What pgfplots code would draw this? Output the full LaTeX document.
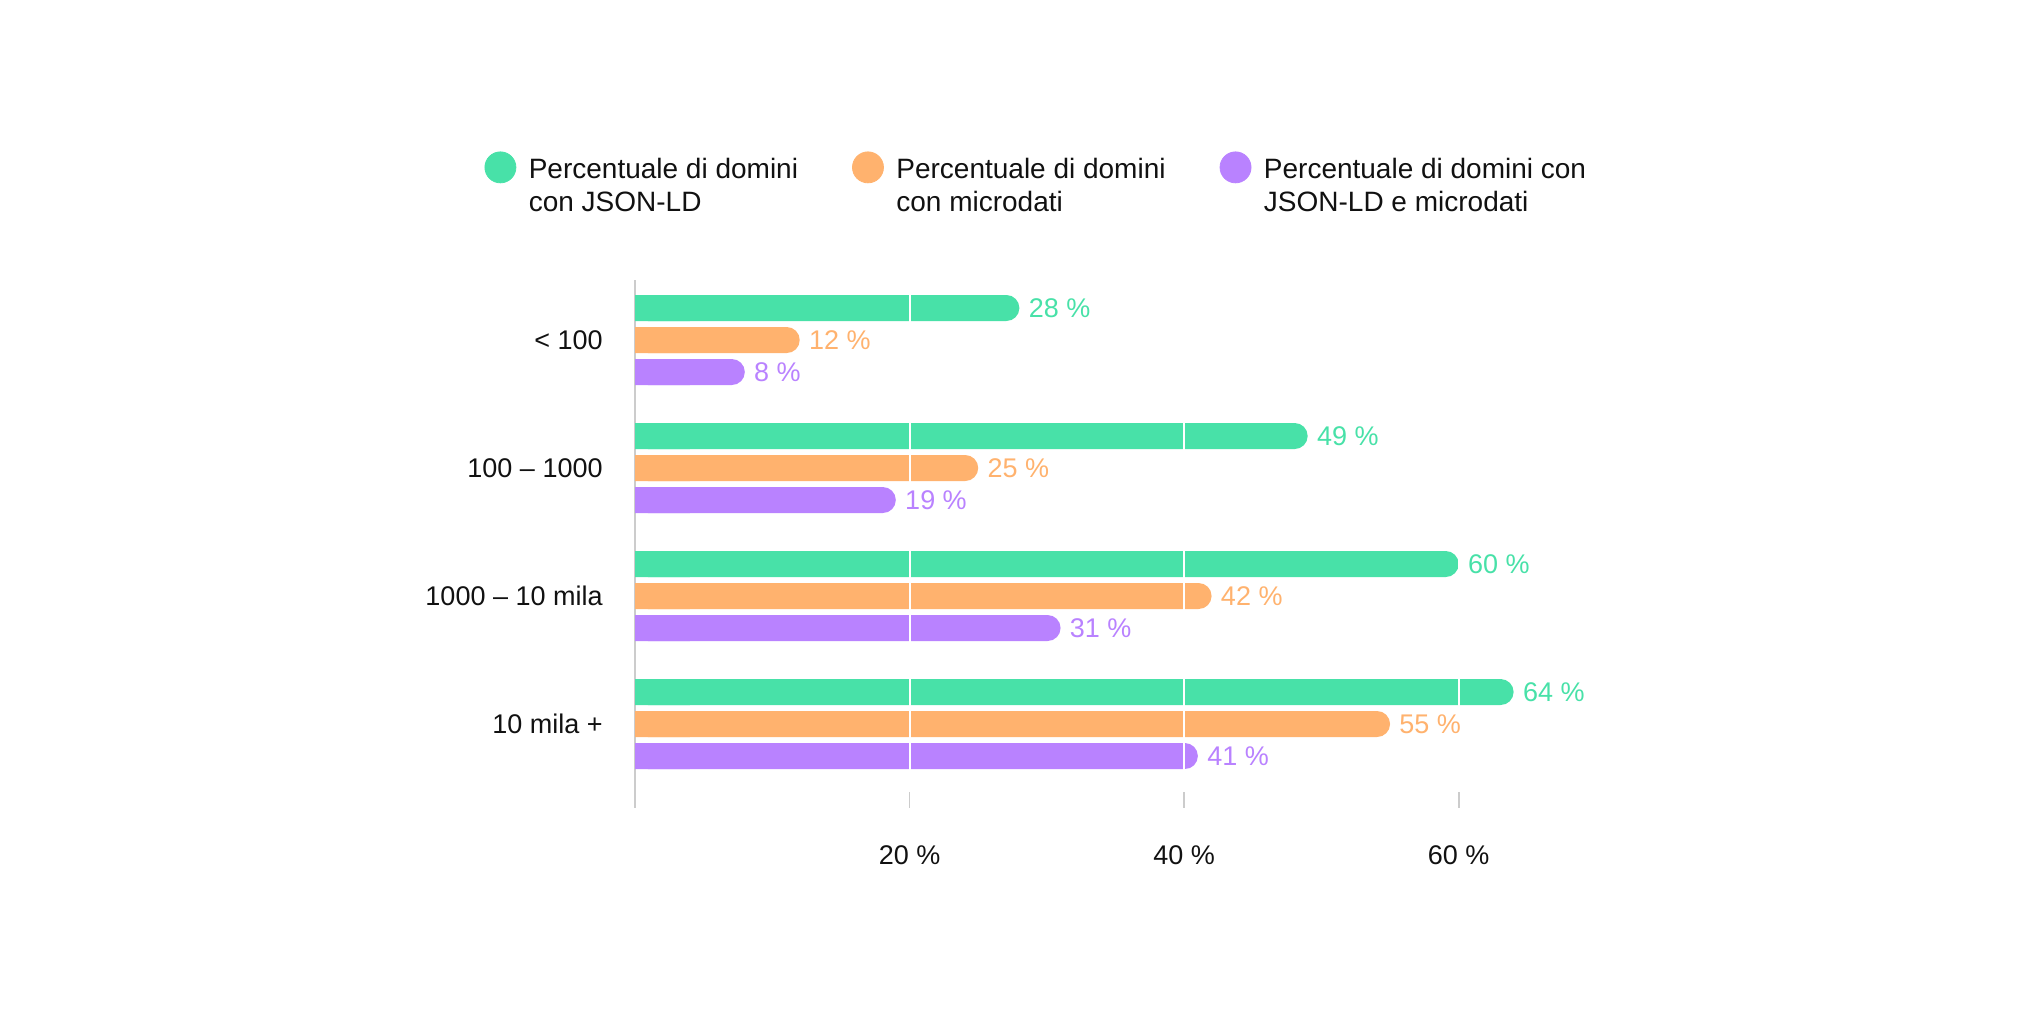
\documentclass[border=0pt]{standalone}
\usepackage{pgfplots}
\pgfplotsset{compat=1.18}
\usepackage{fontspec}
\setmainfont{Liberation Sans}
\definecolor{cgreen}{HTML}{48E1A8}
\definecolor{corange}{HTML}{FFB26E}
\definecolor{cpurple}{HTML}{B982FF}
\definecolor{cgrid}{HTML}{CCCCCC}
\definecolor{ctext}{HTML}{111111}
\begin{document}
\fontsize{13.5pt}{16.75pt}\selectfont
\begin{tikzpicture}
\path[use as bounding box] (0pt,0pt) rectangle (1010pt,508pt);
\begin{axis}[
  at={(317.5pt,104pt)}, anchor=south west,
  scale only axis, width=480.5pt, height=264pt,
  xmin=0, xmax=70, ymin=-0.656, ymax=3.469,
  axis x line*=bottom, axis y line*=left,
  x axis line style={draw=none},
  y axis line style={draw=cgrid, line width=0.8pt},
  xtick={20,40,60}, xticklabels={20~\%,40~\%,60~\%},
  xtick align=inside, major tick length=8pt,
  xtick style={draw=cgrid, line width=0.8pt},
  ytick={0,1,2,3},
  yticklabels={{10 mila +},{1000 – 10 mila},{100 – 1000},{< 100}},
  ytick style={draw=none},
  xticklabel style={yshift=-14pt, text=ctext},
  yticklabel style={xshift=-11.5pt, text=ctext},
  clip=false,
  legend columns=3, legend cell align=left,
  legend style={draw=none, fill=none,
    at={(axis description cs:-0.1566,1.2434)}, anchor=north west,
    inner sep=0pt, outer sep=0pt,
    nodes={inner sep=0pt, align=left, text=ctext, font=\fontsize{14pt}{16.75pt}\selectfont},
    /tikz/every odd column/.style={column sep=6.25pt},
    /tikz/every even column/.style={column sep=27pt}},
]
\addlegendimage{legend image code/.code={\fill[cgreen] (0pt,9.7pt) circle (7.75pt);}}
\addlegendentry{Percentuale di domini\\con JSON-LD}
\addlegendimage{legend image code/.code={\fill[corange] (0pt,9.7pt) circle (7.75pt);}}
\addlegendentry{Percentuale di domini\\con microdati}
\addlegendimage{legend image code/.code={\fill[cpurple] (0pt,9.7pt) circle (7.75pt);}}
\addlegendentry{Percentuale di domini con\\JSON-LD e microdati}

% main bars (rounded ends)
\addplot[forget plot, xbar, bar width=13pt, bar shift=0pt, fill=cgreen, draw=none, rounded corners=6.5pt,
  nodes near coords={\pgfmathprintnumber[assume math mode=true]{\pgfplotspointmeta}~\%},
  every node near coord/.append style={anchor=west, xshift=0pt, text=cgreen}]
  coordinates {(28,3.25) (49,2.25) (60,1.25) (64,0.25)};
\addplot[forget plot, xbar, bar width=13pt, bar shift=0pt, fill=corange, draw=none, rounded corners=6.5pt,
  nodes near coords={\pgfmathprintnumber[assume math mode=true]{\pgfplotspointmeta}~\%},
  every node near coord/.append style={anchor=west, xshift=0pt, text=corange}]
  coordinates {(12,3) (25,2) (42,1) (55,0)};
\addplot[forget plot, xbar, bar width=13pt, bar shift=0pt, fill=cpurple, draw=none, rounded corners=6.5pt,
  nodes near coords={\pgfmathprintnumber[assume math mode=true]{\pgfplotspointmeta}~\%},
  every node near coord/.append style={anchor=west, xshift=0pt, text=cpurple}]
  coordinates {(8,2.75) (19,1.75) (31,0.75) (41,-0.25)};
% square left ends
\addplot[forget plot, xbar, bar width=13pt, bar shift=0pt, fill=cgreen, draw=none]
  coordinates {(4,3.25) (4,2.25) (4,1.25) (4,0.25)};
\addplot[forget plot, xbar, bar width=13pt, bar shift=0pt, fill=corange, draw=none]
  coordinates {(4,3) (4,2) (4,1) (4,0)};
\addplot[forget plot, xbar, bar width=13pt, bar shift=0pt, fill=cpurple, draw=none]
  coordinates {(4,2.75) (4,1.75) (4,0.75) (4,-0.25)};
% white grid lines over the bars
\draw[white, line width=1pt] (axis cs:20,-0.40) -- (axis cs:20,3.40);
\draw[white, line width=1pt] (axis cs:40,-0.40) -- (axis cs:40,3.40);
\draw[white, line width=1pt] (axis cs:60,-0.40) -- (axis cs:60,3.40);
\end{axis}
\end{tikzpicture}
\end{document}
